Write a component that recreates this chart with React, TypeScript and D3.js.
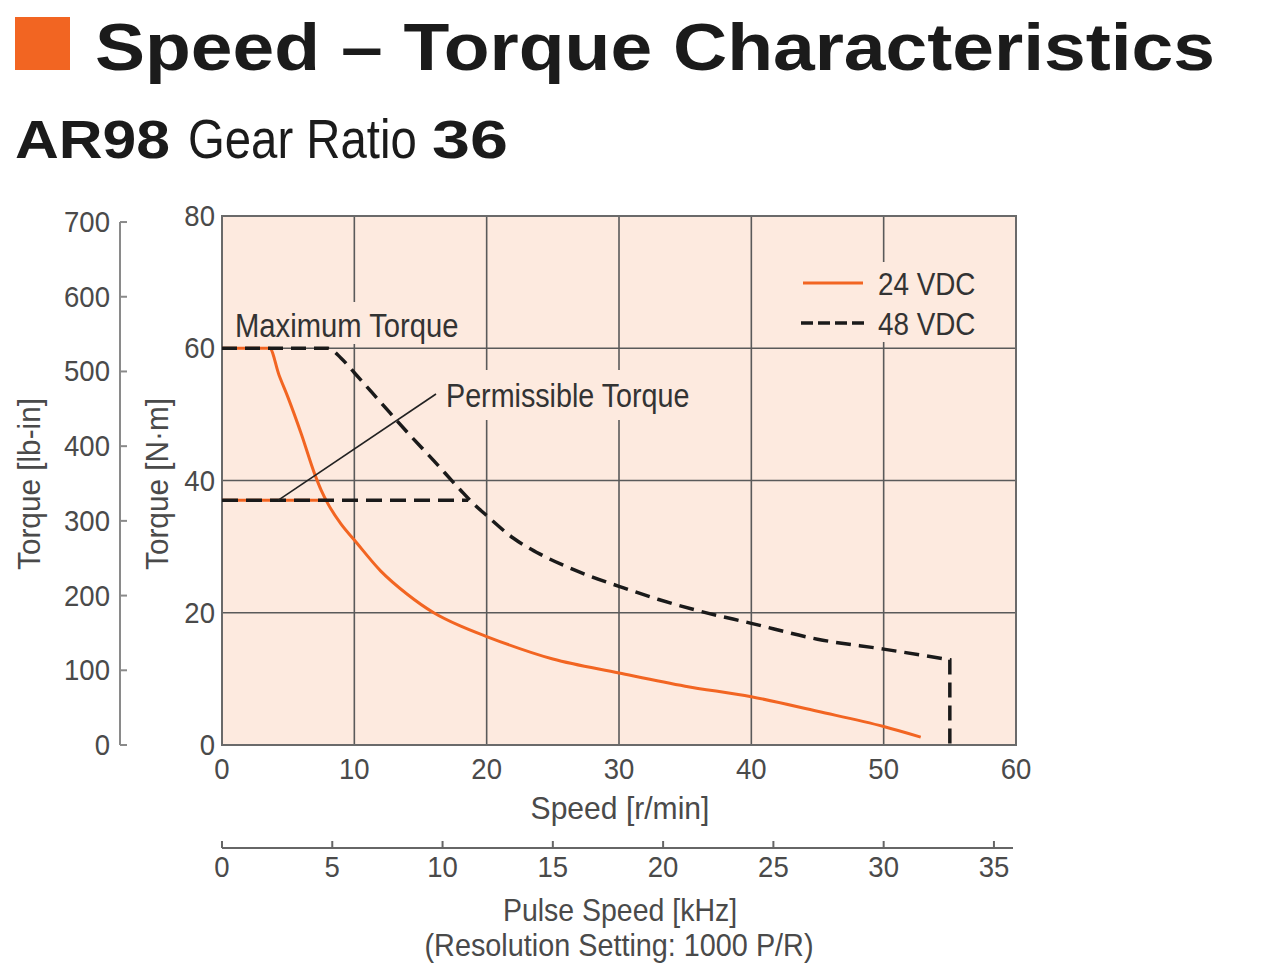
import React, { useEffect } from 'react';
import * as d3 from 'd3';

// ---- data ----
const speedTicks = [0, 10, 20, 30, 40, 50, 60];
const nmTicks = [0, 20, 40, 60, 80];
const lbinTicks = [0, 100, 200, 300, 400, 500, 600, 700];
const pulseTicks = [0, 5, 10, 15, 20, 25, 30, 35];

const speed24 = [0, 3.6, 4.3, 5, 6, 7, 7.5, 8, 9, 10, 12, 14, 16, 18, 20, 25, 30, 35, 40, 45, 50, 52.8];
const torque24 = [60, 60, 56, 52.5, 47, 41, 38.5, 36.5, 33.4, 31, 26.3, 22.8, 20, 18, 16.4, 13, 10.9, 8.9, 7.3, 5.1, 2.8, 1.2];

const speed48 = [0, 8, 9, 10, 12, 14, 16, 18, 19, 20, 22, 24, 26, 28, 30, 33, 36, 40, 45, 50, 55];
const torque48 = [60, 60, 58.5, 56.3, 51.8, 47.3, 43, 38.6, 36.5, 34.7, 31.3, 28.9, 27, 25.4, 24, 22, 20.3, 18.4, 16, 14.5, 12.9];
const maxSpeed48 = 55;

const permTorque = 37;
const permEnd24 = 7.9;
const permEnd48 = 18.6;

const NM_TO_LBIN = 8.851;
const KHZ_TO_RPM = 60 / 36;

const SANS = "'Liberation Sans', Arial, Helvetica, sans-serif";
const ORANGE = '#f26522';
const BG = '#fdeadf';
const GRID = '#5a5a5a';
const TXT = '#4a4a4a';

type TProps = {
  x: number;
  y: number;
  anchor?: 'start' | 'middle' | 'end';
  size?: number;
  sx?: number;
  rotate?: number;
  fill?: string;
  weight?: string | number;
  children: React.ReactNode;
};

function CText({ x, y, anchor = 'start', size = 29, sx = 0.95, rotate = 0, fill = TXT, weight = 'normal', children }: TProps) {
  return (
    <text
      transform={`translate(${x},${y}) rotate(${rotate}) scale(${sx},1)`}
      textAnchor={anchor}
      fontFamily={SANS}
      fontSize={size}
      fontWeight={weight}
      fill={fill}
    >
      {children}
    </text>
  );
}

export default function App() {
  useEffect(() => {
    document.body.style.margin = '0';
  }, []);

  const x = d3.scaleLinear().domain([0, 60]).range([222, 1016]);
  const y = d3.scaleLinear().domain([0, 80]).range([745, 216]);
  const yLb = d3.scaleLinear().domain([0, 80 * NM_TO_LBIN]).range([745, 216]);
  const xP = d3.scaleLinear().domain([0, 60 / KHZ_TO_RPM]).range([222, 1016]);

  const line = d3
    .line<[number, number]>()
    .x((d) => x(d[0]))
    .y((d) => y(d[1]))
    .curve(d3.curveMonotoneX);

  const pts24: [number, number][] = speed24.map((s, i) => [s, torque24[i]]);
  const pts48: [number, number][] = speed48.map((s, i) => [s, torque48[i]]);
  const path24 = line(pts24) || '';
  const path48 = (line(pts48) || '') + `L${x(maxSpeed48)},${y(0)}`;

  return (
    <svg width={1280} height={979} style={{ display: 'block', background: '#fff' }}>
      {/* Title */}
      <rect x={15} y={17} width={55} height={53} fill={ORANGE} />
      <text x={95} y={70} fontFamily={SANS} fontWeight="bold" fontSize={66} fill="#1b1b1b" textLength={1120} lengthAdjust="spacingAndGlyphs">
        Speed – Torque Characteristics
      </text>
      <text x={15} y={158} fontFamily={SANS} fontWeight="bold" fontSize={54} fill="#1b1b1b" textLength={155} lengthAdjust="spacingAndGlyphs">
        AR98
      </text>
      <CText x={188} y={158} size={56} sx={0.845} fill="#1b1b1b">
        Gear Ratio
      </CText>
      <text x={432} y={158} fontFamily={SANS} fontWeight="bold" fontSize={54} fill="#1b1b1b" textLength={76} lengthAdjust="spacingAndGlyphs">
        36
      </text>

      {/* Plot background */}
      <rect x={x(0)} y={y(80)} width={x(60) - x(0)} height={y(0) - y(80)} fill={BG} />

      {/* Grid */}
      {speedTicks.slice(1, -1).map((t) => (
        <line key={'gx' + t} x1={x(t)} x2={x(t)} y1={y(80)} y2={y(0)} stroke={GRID} strokeWidth={1.6} />
      ))}
      {nmTicks.slice(1, -1).map((t) => (
        <line key={'gy' + t} x1={x(0)} x2={x(60)} y1={y(t)} y2={y(t)} stroke={GRID} strokeWidth={1.6} />
      ))}

      {/* label boxes covering gridlines */}
      <rect x={228} y={302} width={237} height={42} fill={BG} />
      <rect x={440} y={370} width={256} height={50} fill={BG} />
      <rect x={790} y={262} width={196} height={80} fill={BG} />

      {/* Plot border */}
      <rect x={x(0)} y={y(80)} width={x(60) - x(0)} height={y(0) - y(80)} fill="none" stroke="#6a6a6a" strokeWidth={2} />

      {/* 24 VDC */}
      <line x1={x(0)} x2={x(permEnd24)} y1={y(permTorque)} y2={y(permTorque)} stroke={ORANGE} strokeWidth={3} />
      <path d={path24} fill="none" stroke={ORANGE} strokeWidth={3} />

      {/* 48 VDC */}
      <line x1={x(0)} x2={x(permEnd48)} y1={y(permTorque)} y2={y(permTorque)} stroke="#1a1a1a" strokeWidth={3.5} strokeDasharray="16 8" />
      <path d={path48} fill="none" stroke="#1a1a1a" strokeWidth={3.5} strokeDasharray="15 8" />

      {/* Annotations */}
      <CText x={235} y={337} size={33} sx={0.885} fill="#333">
        Maximum Torque
      </CText>
      <line x1={278} y1={y(permTorque)} x2={436} y2={394} stroke="#222" strokeWidth={1.6} />
      <CText x={446} y={407} size={33} sx={0.87} fill="#333">
        Permissible Torque
      </CText>

      {/* Legend */}
      <line x1={803} x2={863} y1={283} y2={283} stroke={ORANGE} strokeWidth={3} />
      <CText x={878} y={295} size={32} sx={0.87} fill="#333">
        24 VDC
      </CText>
      <line x1={801} x2={865} y1={323} y2={323} stroke="#1a1a1a" strokeWidth={3.5} strokeDasharray="12 5" />
      <CText x={878} y={335} size={32} sx={0.87} fill="#333">
        48 VDC
      </CText>

      {/* N·m axis labels */}
      {nmTicks.map((t) => (
        <CText key={'ny' + t} x={215} y={y(t) + 10} anchor="end">
          {t}
        </CText>
      ))}
      <CText x={168} y={484} anchor="middle" rotate={-90} size={32} sx={0.93}>
        Torque [N·m]
      </CText>

      {/* lb-in axis */}
      <line x1={120} x2={120} y1={yLb(700)} y2={yLb(0)} stroke="#8a8a8a" strokeWidth={2} />
      {lbinTicks.map((t) => (
        <g key={'lb' + t}>
          <line x1={120} x2={127} y1={yLb(t)} y2={yLb(t)} stroke="#8a8a8a" strokeWidth={2} />
          <CText x={110} y={yLb(t) + 10} anchor="end">
            {t}
          </CText>
        </g>
      ))}
      <CText x={40} y={484} anchor="middle" rotate={-90} size={32} sx={0.93}>
        Torque [lb-in]
      </CText>

      {/* Speed axis labels */}
      {speedTicks.map((t) => (
        <CText key={'sx' + t} x={x(t)} y={779} anchor="middle">
          {t}
        </CText>
      ))}
      <CText x={620} y={819} anchor="middle" size={32} sx={0.94}>
        Speed [r/min]
      </CText>

      {/* Pulse speed axis */}
      <line x1={xP(0)} x2={1013} y1={848} y2={848} stroke="#666" strokeWidth={2} />
      {pulseTicks.map((t) => (
        <g key={'px' + t}>
          <line x1={xP(t)} x2={xP(t)} y1={848} y2={841} stroke="#666" strokeWidth={2} />
          <CText x={xP(t)} y={877} anchor="middle">
            {t}
          </CText>
        </g>
      ))}
      <CText x={620} y={921} anchor="middle" size={32} sx={0.89}>
        Pulse Speed [kHz]
      </CText>
      <CText x={619} y={956} anchor="middle" size={32} sx={0.9}>
        (Resolution Setting: 1000 P/R)
      </CText>
    </svg>
  );
}
